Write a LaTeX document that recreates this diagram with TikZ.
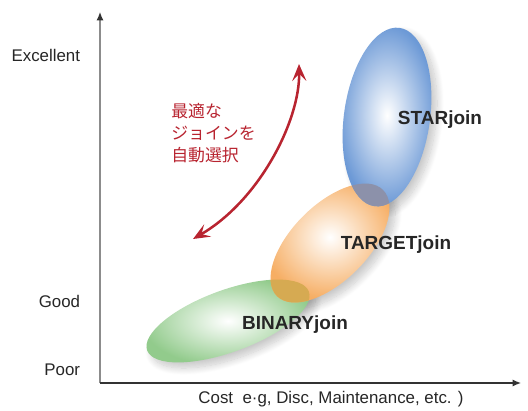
\documentclass[tikz,border=0pt]{standalone}
\usepackage{fontspec}
\setmainfont{Liberation Sans}
\newfontfamily\jpfont{Noto Sans CJK JP}
\usetikzlibrary{shapes.geometric,arrows.meta,shadows.blur}

\definecolor{starblue}{RGB}{108,153,214}
\definecolor{targetorange}{RGB}{246,174,100}
\definecolor{binarygreen}{RGB}{146,203,140}
\definecolor{bluegray}{RGB}{140,145,170}
\definecolor{gold}{RGB}{214,170,82}
\definecolor{selectred}{RGB}{184,36,48}

\begin{document}
\begin{tikzpicture}[x=0.025cm, y=-0.025cm,
axis/.style={line width=0.8pt, -{Latex[length=6pt,width=5pt,color=black!80]}},
tick/.style={anchor=east, font=\fontsize{12}{14}\selectfont, text=black!85},
softshadow/.style={blur shadow={shadow xshift=4pt, shadow yshift=-4pt, shadow opacity=22, shadow blur steps=14, shadow blur radius=5pt}},
blob/.style={ellipse, inner sep=0pt, inner color=white},
starshape/.style={ellipse, inner sep=0pt, minimum width=2.15cm, minimum height=4.5cm, rotate=-8},
targetshape/.style={ellipse, inner sep=0pt, minimum width=3.75cm, minimum height=1.9cm, rotate=45},
binaryshape/.style={ellipse, inner sep=0pt, minimum width=4.3cm, minimum height=1.55cm, rotate=20},
joinlabel/.style={font=\bfseries\fontsize{13.5}{16}\selectfont, text=black!85}]
\useasboundingbox (0,0) rectangle (528,410);

% axes
\coordinate (origin) at (100,383);
\coordinate (ytop) at (100,12);
\coordinate (xend) at (521,383);
\draw[axis, draw=black!45] (origin) -- (ytop);
\draw[axis, draw=black!80] (origin) -- (xend);
\node[tick] (excellent) at (85,55) {Excellent};
\node[tick] (good) at (85,301) {Good};
\node[tick] (poor) at (85,370) {Poor};
\node[font=\fontsize{12}{14}\selectfont, text=black!85] (cost) at (331,399)
  {Cost\ \ e·g, Disc, Maintenance, etc. )};

% shadows first, then the join methods
\node[binaryshape, softshadow] (binaryshadow) at (228,321) {};
\node[targetshape, softshadow] (targetshadow) at (330,243) {};
\node[starshape, softshadow] (starshadow) at (387,117) {};
\node[blob, binaryshape, outer color=binarygreen] (binary) at (228,321) {};
\node[blob, targetshape, outer color=targetorange,
  path picture={\node[binaryshape, fill=gold] at (binary.center) {};}] (target) at (330,243) {};
\node[blob, starshape, outer color=starblue,
  path picture={\node[targetshape, fill=bluegray] at (target.center) {};}] (star) at (387,117) {};
\node[joinlabel] (starlabel) at (440,120) {STARjoin};
\node[joinlabel] (targetlabel) at (396,245) {TARGETjoin};
\node[joinlabel] (binarylabel) at (295,325) {BINARYjoin};

% automatic selection
\coordinate (lo) at (193,239);
\coordinate (hi) at (299,64);
\draw[selectred, line width=1.8pt, {Stealth[length=12pt,width=10pt,inset=5pt]}-{Stealth[length=12pt,width=10pt,inset=5pt]}]
  (lo) .. controls (260,200) and (300,120) .. (hi);
\node[anchor=north west, align=left, inner sep=0pt, text=selectred,
  font=\jpfont\fontsize{12}{15.6}\selectfont] (auto) at (171,103) {最適な\\ジョインを\\自動選択};
\end{tikzpicture}
\end{document}
